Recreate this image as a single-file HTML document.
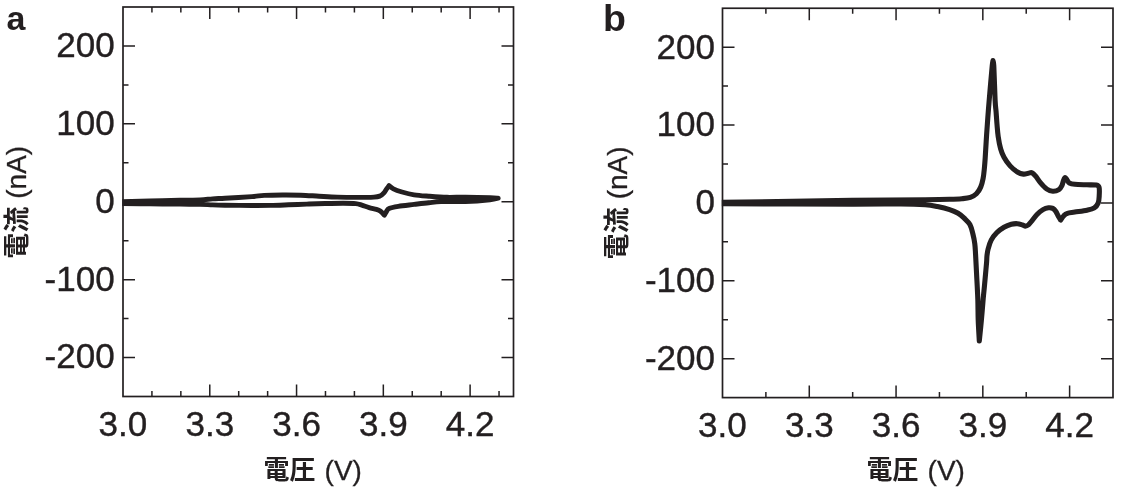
<!DOCTYPE html>
<html lang="ja"><head><meta charset="utf-8"><title>CV</title>
<style>
html,body{margin:0;padding:0;background:#fff;}
svg{display:block}
text{font-family:"Liberation Sans","Noto Sans CJK JP",sans-serif;fill:#231f20;}
.tk{font-size:35.6px;stroke:#231f20;stroke-width:0.4px;}
.ax{font-size:28px;stroke:#231f20;stroke-width:0.3px;}
.cj{font-family:"Liberation Sans","Noto Sans CJK JP",sans-serif;font-size:26px;font-weight:700;}
.pl{font-size:34px;font-weight:bold;}
.cv{fill:none;stroke:#231f20;stroke-width:5.1;stroke-linejoin:round;stroke-linecap:round;}
</style></head><body>
<svg width="1125" height="492" viewBox="0 0 1125 492">
<rect width="1125" height="492" fill="#fff"/>
<defs><clipPath id="ca"><rect x="122.3" y="0" width="420" height="492"/></clipPath><clipPath id="cb"><rect x="721.8" y="0" width="420" height="492"/></clipPath></defs>
<rect x="123" y="7" width="390.5" height="389.5" fill="none" stroke="#231f20" stroke-width="1.7"/>
<path d="M151.93 7v5.5 M151.93 396.5v-5.5 M180.85 7v5.5 M180.85 396.5v-5.5 M209.78 7v12 M209.78 396.5v-12 M238.70 7v5.5 M238.70 396.5v-5.5 M267.63 7v5.5 M267.63 396.5v-5.5 M296.56 7v12 M296.56 396.5v-12 M325.48 7v5.5 M325.48 396.5v-5.5 M354.41 7v5.5 M354.41 396.5v-5.5 M383.33 7v12 M383.33 396.5v-12 M412.26 7v5.5 M412.26 396.5v-5.5 M441.19 7v5.5 M441.19 396.5v-5.5 M470.11 7v12 M470.11 396.5v-12 M499.04 7v5.5 M499.04 396.5v-5.5 M123 45.95h12 M513.5 45.95h-12 M123 84.90h5.5 M513.5 84.90h-5.5 M123 123.85h12 M513.5 123.85h-12 M123 162.80h5.5 M513.5 162.80h-5.5 M123 201.75h12 M513.5 201.75h-12 M123 240.70h5.5 M513.5 240.70h-5.5 M123 279.65h12 M513.5 279.65h-12 M123 318.60h5.5 M513.5 318.60h-5.5 M123 357.55h12 M513.5 357.55h-12" stroke="#231f20" stroke-width="1.5" fill="none"/>
<text transform="translate(114.80 56.85) scale(0.985 1)" text-anchor="end" class="tk">200</text>
<text transform="translate(114.80 134.75) scale(0.985 1)" text-anchor="end" class="tk">100</text>
<text transform="translate(114.80 212.65) scale(0.985 1)" text-anchor="end" class="tk">0</text>
<text transform="translate(114.80 290.55) scale(0.985 1)" text-anchor="end" class="tk">-100</text>
<text transform="translate(114.80 368.45) scale(0.985 1)" text-anchor="end" class="tk">-200</text>
<text transform="translate(123.00 435.60) scale(0.985 1)" text-anchor="middle" class="tk">3.0</text>
<text transform="translate(209.78 435.60) scale(0.985 1)" text-anchor="middle" class="tk">3.3</text>
<text transform="translate(296.56 435.60) scale(0.985 1)" text-anchor="middle" class="tk">3.6</text>
<text transform="translate(383.33 435.60) scale(0.985 1)" text-anchor="middle" class="tk">3.9</text>
<text transform="translate(470.11 435.60) scale(0.985 1)" text-anchor="middle" class="tk">4.2</text>
<text x="263.60" y="478.90" class="cj">電圧</text>
<text x="324.60" y="480.10" class="ax">(V)</text>
<text transform="translate(25.60 258.85) rotate(-90)" class="cj">電流</text>
<text transform="translate(26.40 198.75) rotate(-90)" class="ax">(nA)</text>
<text x="6.5" y="30" class="pl" style="font-size:34px">a</text>
<rect x="722.5" y="8.25" width="390.5" height="389.35" fill="none" stroke="#231f20" stroke-width="1.7"/>
<path d="M765.89 8.25v5.5 M765.89 397.6v-5.5 M809.28 8.25v12 M809.28 397.6v-12 M852.67 8.25v5.5 M852.67 397.6v-5.5 M896.06 8.25v12 M896.06 397.6v-12 M939.44 8.25v5.5 M939.44 397.6v-5.5 M982.83 8.25v12 M982.83 397.6v-12 M1026.22 8.25v5.5 M1026.22 397.6v-5.5 M1069.61 8.25v12 M1069.61 397.6v-12 M722.5 47.19h12 M1113 47.19h-12 M722.5 86.12h5.5 M1113 86.12h-5.5 M722.5 125.06h12 M1113 125.06h-12 M722.5 163.99h5.5 M1113 163.99h-5.5 M722.5 202.93h12 M1113 202.93h-12 M722.5 241.86h5.5 M1113 241.86h-5.5 M722.5 280.80h12 M1113 280.80h-12 M722.5 319.73h5.5 M1113 319.73h-5.5 M722.5 358.67h12 M1113 358.67h-12" stroke="#231f20" stroke-width="1.5" fill="none"/>
<text transform="translate(715.10 58.59) scale(0.985 1)" text-anchor="end" class="tk">200</text>
<text transform="translate(715.10 136.46) scale(0.985 1)" text-anchor="end" class="tk">100</text>
<text transform="translate(715.10 214.33) scale(0.985 1)" text-anchor="end" class="tk">0</text>
<text transform="translate(715.10 292.19) scale(0.985 1)" text-anchor="end" class="tk">-100</text>
<text transform="translate(715.10 370.06) scale(0.985 1)" text-anchor="end" class="tk">-200</text>
<text transform="translate(722.50 436.70) scale(0.985 1)" text-anchor="middle" class="tk">3.0</text>
<text transform="translate(809.28 436.70) scale(0.985 1)" text-anchor="middle" class="tk">3.3</text>
<text transform="translate(896.06 436.70) scale(0.985 1)" text-anchor="middle" class="tk">3.6</text>
<text transform="translate(982.83 436.70) scale(0.985 1)" text-anchor="middle" class="tk">3.9</text>
<text transform="translate(1069.61 436.70) scale(0.985 1)" text-anchor="middle" class="tk">4.2</text>
<text x="866.60" y="479.00" class="cj">電圧</text>
<text x="927.60" y="480.20" class="ax">(V)</text>
<text transform="translate(625.90 259.43) rotate(-90)" class="cj">電流</text>
<text transform="translate(626.70 199.33) rotate(-90)" class="ax">(nA)</text>
<text x="603" y="30.5" class="pl" style="font-size:37.5px">b</text>
<path class="cv" style="stroke-width:4.9" d="M122.50 201.70 C127.08 201.58 140.42 201.24 150.00 201.00 C159.58 200.76 171.67 200.43 180.00 200.25 C188.33 200.07 194.57 200.12 200.00 199.90 C205.43 199.68 208.43 199.18 212.60 198.90 C216.77 198.62 218.43 198.58 225.00 198.20 C231.57 197.82 245.47 197.07 252.00 196.60 C258.53 196.13 259.12 195.67 264.20 195.40 C269.28 195.13 276.40 195.03 282.50 195.00 C288.60 194.97 294.70 195.00 300.80 195.20 C306.90 195.40 313.00 195.88 319.10 196.20 C325.20 196.52 331.30 196.90 337.40 197.10 C343.50 197.30 349.60 197.40 355.70 197.40 C361.80 197.40 369.95 197.33 374.00 197.10 C378.05 196.87 378.38 196.65 380.00 196.00 C381.62 195.35 382.57 194.43 383.70 193.20 C384.83 191.97 385.90 189.87 386.80 188.60 C387.70 187.33 388.72 186.10 389.10 185.60 C389.82 186.15 391.25 187.83 393.40 188.90 C395.55 189.97 398.55 191.02 402.00 192.00 C405.45 192.98 409.63 194.10 414.10 194.80 C418.57 195.50 423.30 195.78 428.80 196.20 C434.30 196.62 441.00 197.15 447.10 197.30 C453.20 197.45 458.25 197.05 465.40 197.10 C472.55 197.15 484.53 197.42 490.00 197.60 C495.47 197.78 496.83 198.10 498.20 198.20 C496.83 198.45 495.47 199.15 490.00 199.70 C484.53 200.25 473.57 201.18 465.40 201.50 C457.23 201.82 447.10 201.40 441.00 201.60 C434.90 201.80 433.28 202.23 428.80 202.70 C424.32 203.17 419.18 203.80 414.10 204.40 C409.02 205.00 402.47 205.63 398.30 206.30 C394.13 206.97 391.07 207.53 389.10 208.40 C387.13 209.27 387.30 210.37 386.50 211.50 C385.70 212.63 384.67 214.58 384.30 215.20 C383.92 214.77 382.72 213.32 382.00 212.60 C381.28 211.88 380.93 211.45 380.00 210.90 C379.07 210.35 378.22 209.85 376.40 209.30 C374.58 208.75 371.53 208.30 369.10 207.60 C366.67 206.90 364.03 205.77 361.80 205.10 C359.57 204.43 358.75 203.92 355.70 203.60 C352.65 203.28 348.58 203.22 343.50 203.20 C338.42 203.18 331.30 203.35 325.20 203.50 C319.10 203.65 313.00 203.88 306.90 204.10 C300.80 204.32 294.70 204.58 288.60 204.80 C282.50 205.02 276.40 205.28 270.30 205.40 C264.20 205.52 259.55 205.53 252.00 205.50 C244.45 205.47 231.57 205.30 225.00 205.20 C218.43 205.10 216.77 205.05 212.60 204.90 C208.43 204.75 205.43 204.43 200.00 204.30 C194.57 204.18 188.33 204.23 180.00 204.15 C171.67 204.07 159.58 203.96 150.00 203.85 C140.42 203.74 127.08 203.56 122.50 203.50" clip-path="url(#ca)"/>
<path class="cv" d="M722.00 202.40 C743.67 202.05 818.13 200.75 852.00 200.30 C885.87 199.85 908.93 199.87 925.20 199.70 C941.47 199.53 943.50 199.47 949.60 199.30 C955.70 199.13 958.35 199.02 961.80 198.70 C965.25 198.38 967.87 198.22 970.30 197.40 C972.73 196.58 974.67 195.52 976.40 193.80 C978.13 192.08 979.58 189.65 980.70 187.10 C981.82 184.55 982.48 181.68 983.10 178.50 C983.72 175.32 984.05 171.42 984.40 168.00 C984.75 164.58 984.83 163.50 985.20 158.00 C985.57 152.50 986.07 143.00 986.60 135.00 C987.13 127.00 987.75 118.33 988.40 110.00 C989.05 101.67 989.87 92.33 990.50 85.00 C991.13 77.67 991.78 70.07 992.20 66.00 C992.62 61.93 992.87 61.50 993.00 60.60 C993.13 61.50 993.45 59.43 993.80 66.00 C994.15 72.57 994.72 92.33 995.10 100.00 C995.48 107.67 995.78 107.93 996.10 112.00 C996.42 116.07 996.65 120.30 997.00 124.40 C997.35 128.50 997.60 132.53 998.20 136.60 C998.80 140.67 999.63 145.35 1000.60 148.80 C1001.57 152.25 1002.42 154.45 1004.00 157.30 C1005.58 160.15 1007.87 163.45 1010.10 165.90 C1012.33 168.35 1015.17 170.63 1017.40 172.00 C1019.63 173.37 1021.67 173.90 1023.50 174.10 C1025.33 174.30 1026.97 173.42 1028.40 173.20 C1029.83 172.98 1030.88 172.30 1032.10 172.80 C1033.32 173.30 1034.28 174.52 1035.70 176.20 C1037.12 177.88 1038.77 180.77 1040.60 182.90 C1042.43 185.03 1044.67 187.62 1046.70 189.00 C1048.73 190.38 1050.77 191.10 1052.80 191.20 C1054.83 191.30 1057.37 190.57 1058.90 189.60 C1060.43 188.63 1061.23 186.93 1062.00 185.40 C1062.77 183.87 1062.97 181.70 1063.50 180.40 C1064.03 179.10 1064.58 177.63 1065.20 177.60 C1065.82 177.57 1066.52 179.32 1067.20 180.20 C1067.88 181.08 1068.03 182.22 1069.30 182.90 C1070.57 183.58 1071.85 183.98 1074.80 184.30 C1077.75 184.62 1083.42 184.67 1087.00 184.80 C1090.58 184.93 1094.28 184.67 1096.30 185.10 C1098.32 185.53 1098.62 185.58 1099.10 187.40 C1099.58 189.22 1099.35 193.40 1099.20 196.00 C1099.05 198.60 1099.02 201.02 1098.20 203.00 C1097.38 204.98 1096.17 206.70 1094.30 207.90 C1092.43 209.10 1090.25 209.50 1087.00 210.20 C1083.75 210.90 1078.07 211.58 1074.80 212.10 C1071.53 212.62 1069.23 212.70 1067.40 213.30 C1065.57 213.90 1064.92 214.58 1063.80 215.70 C1062.68 216.82 1061.22 219.28 1060.70 220.00 C1060.30 219.38 1059.10 217.72 1058.30 216.30 C1057.50 214.88 1056.82 212.82 1055.90 211.50 C1054.98 210.18 1054.03 209.02 1052.80 208.40 C1051.57 207.78 1050.13 207.60 1048.50 207.80 C1046.87 208.00 1044.92 208.48 1043.00 209.60 C1041.08 210.72 1038.82 212.67 1037.00 214.50 C1035.18 216.33 1033.53 218.87 1032.10 220.60 C1030.67 222.33 1029.52 223.98 1028.40 224.90 C1027.28 225.82 1026.42 226.10 1025.40 226.10 C1024.38 226.10 1023.63 225.30 1022.30 224.90 C1020.97 224.50 1019.23 223.80 1017.40 223.70 C1015.57 223.60 1013.53 223.70 1011.30 224.30 C1009.07 224.90 1006.43 225.88 1004.00 227.30 C1001.57 228.72 998.83 230.67 996.70 232.80 C994.57 234.93 992.62 237.45 991.20 240.10 C989.78 242.75 988.90 246.13 988.20 248.70 C987.50 251.27 987.27 253.25 987.00 255.50 C986.73 257.75 986.85 259.05 986.60 262.20 C986.35 265.35 985.87 270.33 985.50 274.40 C985.13 278.47 984.78 282.53 984.40 286.60 C984.02 290.67 983.70 293.23 983.20 298.80 C982.70 304.37 982.05 312.97 981.40 320.00 C980.75 327.03 979.65 337.50 979.30 341.00 C979.12 337.50 978.45 327.03 978.20 320.00 C977.95 312.97 978.07 306.40 977.80 298.80 C977.53 291.20 976.97 281.70 976.60 274.40 C976.23 267.10 975.90 260.10 975.60 255.00 C975.30 249.90 975.25 247.30 974.80 243.80 C974.35 240.30 973.72 237.20 972.90 234.00 C972.08 230.80 971.35 227.23 969.90 224.60 C968.45 221.97 966.17 220.08 964.20 218.20 C962.23 216.32 960.53 214.73 958.10 213.30 C955.67 211.87 953.05 210.72 949.60 209.60 C946.15 208.48 941.47 207.40 937.40 206.60 C933.33 205.80 931.30 205.25 925.20 204.80 C919.10 204.35 913.00 204.02 900.80 203.90 C888.60 203.78 881.80 204.12 852.00 204.10 C822.20 204.08 743.67 203.85 722.00 203.80" clip-path="url(#cb)"/>
</svg>
</body></html>
